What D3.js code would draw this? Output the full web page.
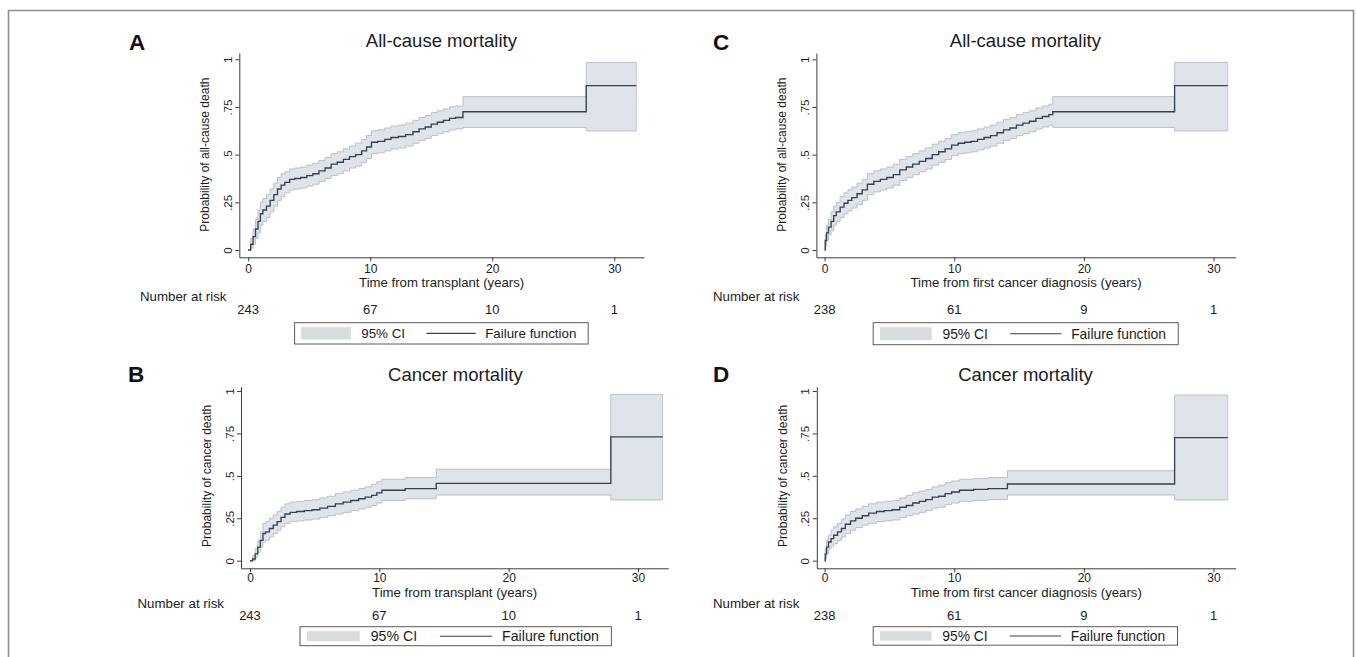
<!DOCTYPE html>
<html><head><meta charset="utf-8">
<script src="https://cdn.jsdelivr.net/npm/d3@7"></script>
<style>
body{margin:0;background:#fff;}
svg{display:block;font-family:"Liberation Sans",Arial,Helvetica,sans-serif;}
</style>
</head><body>
<svg id="chart" width="1357" height="657"></svg>
<script>
// ---------------- DATA ----------------
const timeTicks = [0, 10, 20, 30];
const probTicks = [0, 0.25, 0.5, 0.75, 1];
const probTickLabels = ["0", ".25", ".5", ".75", "1"];
const riskTransplant = [243, 67, 10, 1];
const riskDiagnosis = [238, 61, 9, 1];
const legendLabels = ["95% CI", "Failure function"];

// A: all-cause mortality, time from transplant
const allTxTime = [0, 0.2, 0.4, 0.6, 0.8, 1.0, 1.2, 1.5, 1.8, 2.1, 2.4, 2.7, 3.0, 3.4, 3.8, 4.3, 4.8, 5.3, 5.8, 6.3, 6.8, 7.3, 7.8, 8.3, 8.8, 9.3, 9.7, 10.1, 10.6, 11.2, 11.7, 12.3, 12.9, 13.5, 14.0, 14.5, 15.0, 15.5, 16.0, 16.5, 17.0, 17.6, 27.7, 31.8];
const allTxFail = [0, 0.03, 0.07, 0.11, 0.15, 0.19, 0.21, 0.23, 0.26, 0.29, 0.32, 0.34, 0.355, 0.37, 0.375, 0.38, 0.39, 0.40, 0.415, 0.43, 0.45, 0.46, 0.475, 0.49, 0.50, 0.52, 0.54, 0.565, 0.57, 0.58, 0.59, 0.595, 0.605, 0.62, 0.635, 0.645, 0.66, 0.67, 0.68, 0.69, 0.695, 0.725, 0.862, 0.862];
const allTxLow = [0, 0.01, 0.03, 0.06, 0.09, 0.13, 0.15, 0.17, 0.20, 0.23, 0.26, 0.28, 0.30, 0.315, 0.32, 0.325, 0.335, 0.345, 0.36, 0.375, 0.39, 0.40, 0.415, 0.43, 0.44, 0.46, 0.48, 0.505, 0.51, 0.52, 0.53, 0.535, 0.545, 0.56, 0.575, 0.585, 0.60, 0.61, 0.62, 0.63, 0.635, 0.643, 0.624, 0.624];
const allTxHigh = [0, 0.06, 0.11, 0.16, 0.21, 0.25, 0.27, 0.29, 0.32, 0.35, 0.38, 0.40, 0.41, 0.425, 0.43, 0.435, 0.445, 0.455, 0.47, 0.485, 0.505, 0.515, 0.53, 0.545, 0.56, 0.58, 0.60, 0.625, 0.63, 0.64, 0.65, 0.655, 0.665, 0.68, 0.695, 0.705, 0.72, 0.73, 0.74, 0.75, 0.755, 0.804, 0.984, 0.984];

// B: cancer mortality, time from transplant
const canTxTime = [0, 0.2, 0.4, 0.6, 0.8, 1.0, 1.2, 1.5, 1.8, 2.1, 2.4, 2.7, 3.1, 3.6, 4.2, 4.8, 5.4, 6.0, 6.6, 7.2, 7.8, 8.4, 8.9, 9.4, 9.8, 10.2, 12.0, 14.4, 27.9, 31.9];
const canTxFail = [0, 0.01, 0.04, 0.08, 0.12, 0.16, 0.17, 0.19, 0.21, 0.23, 0.255, 0.275, 0.285, 0.29, 0.295, 0.30, 0.31, 0.32, 0.335, 0.345, 0.355, 0.365, 0.375, 0.385, 0.40, 0.415, 0.425, 0.456, 0.73, 0.73];
const canTxLow = [0, 0, 0.02, 0.05, 0.08, 0.11, 0.12, 0.14, 0.16, 0.18, 0.20, 0.22, 0.23, 0.235, 0.24, 0.245, 0.255, 0.265, 0.275, 0.285, 0.295, 0.305, 0.315, 0.325, 0.34, 0.355, 0.365, 0.387, 0.358, 0.358];
const canTxHigh = [0, 0.03, 0.07, 0.12, 0.17, 0.22, 0.23, 0.25, 0.27, 0.29, 0.315, 0.335, 0.345, 0.35, 0.355, 0.36, 0.37, 0.38, 0.395, 0.405, 0.415, 0.425, 0.435, 0.45, 0.465, 0.48, 0.49, 0.539, 0.98, 0.98];

// C: all-cause mortality, time from first cancer diagnosis
const allDxTime = [0, 0.05, 0.15, 0.3, 0.5, 0.7, 0.9, 1.2, 1.5, 1.8, 2.1, 2.5, 2.9, 3.3, 3.8, 4.3, 4.8, 5.3, 5.8, 6.3, 6.8, 7.3, 7.8, 8.3, 8.8, 9.3, 9.8, 10.3, 10.8, 11.3, 11.8, 12.3, 12.8, 13.3, 13.8, 14.3, 14.8, 15.3, 15.8, 16.3, 16.8, 17.3, 17.6, 27.0, 31.1];
const allDxFail = [0, 0.05, 0.09, 0.12, 0.15, 0.18, 0.20, 0.225, 0.245, 0.26, 0.275, 0.295, 0.315, 0.345, 0.36, 0.37, 0.38, 0.395, 0.42, 0.435, 0.45, 0.465, 0.48, 0.50, 0.515, 0.53, 0.55, 0.56, 0.565, 0.57, 0.58, 0.59, 0.60, 0.615, 0.63, 0.64, 0.655, 0.665, 0.675, 0.69, 0.70, 0.71, 0.725, 0.862, 0.862];
const allDxLow = [0, 0.02, 0.05, 0.08, 0.10, 0.13, 0.15, 0.17, 0.19, 0.205, 0.22, 0.24, 0.26, 0.29, 0.305, 0.315, 0.325, 0.34, 0.365, 0.38, 0.395, 0.41, 0.425, 0.445, 0.46, 0.475, 0.495, 0.505, 0.51, 0.515, 0.525, 0.535, 0.545, 0.56, 0.575, 0.585, 0.60, 0.61, 0.62, 0.635, 0.645, 0.655, 0.643, 0.624, 0.624];
const allDxHigh = [0, 0.08, 0.13, 0.16, 0.20, 0.23, 0.25, 0.28, 0.30, 0.315, 0.33, 0.35, 0.37, 0.40, 0.415, 0.425, 0.435, 0.45, 0.475, 0.49, 0.505, 0.52, 0.535, 0.555, 0.57, 0.585, 0.605, 0.615, 0.62, 0.625, 0.635, 0.645, 0.655, 0.67, 0.685, 0.695, 0.71, 0.72, 0.73, 0.745, 0.755, 0.765, 0.804, 0.984, 0.984];

// D: cancer mortality, time from first cancer diagnosis
const canDxTime = [0, 0.05, 0.15, 0.3, 0.5, 0.7, 1.0, 1.3, 1.6, 2.0, 2.4, 2.9, 3.4, 4.0, 4.6, 5.2, 5.8, 6.3, 6.8, 7.3, 7.8, 8.3, 8.8, 9.3, 9.8, 10.4, 11.5, 12.6, 14.1, 27.0, 31.1];
const canDxFail = [0, 0.04, 0.08, 0.11, 0.13, 0.15, 0.17, 0.19, 0.215, 0.235, 0.25, 0.265, 0.28, 0.29, 0.295, 0.30, 0.315, 0.325, 0.34, 0.35, 0.36, 0.375, 0.38, 0.395, 0.405, 0.415, 0.42, 0.425, 0.452, 0.725, 0.725];
const canDxLow = [0, 0.01, 0.04, 0.07, 0.085, 0.10, 0.12, 0.14, 0.16, 0.18, 0.195, 0.21, 0.22, 0.23, 0.235, 0.24, 0.255, 0.265, 0.275, 0.285, 0.295, 0.31, 0.315, 0.33, 0.34, 0.35, 0.355, 0.36, 0.387, 0.358, 0.358];
const canDxHigh = [0, 0.07, 0.12, 0.15, 0.18, 0.20, 0.22, 0.245, 0.27, 0.29, 0.305, 0.32, 0.335, 0.345, 0.35, 0.355, 0.37, 0.385, 0.40, 0.41, 0.42, 0.435, 0.445, 0.46, 0.47, 0.48, 0.485, 0.49, 0.53, 0.976, 0.976];

// ---------------- LAYOUT / STYLE ----------------
const FONT_TXT = "#1c1c1c";
const BAND_FILL = "#dfe4ea";
const BAND_EDGE = "#b7c0c9";
const LINE_COL = "#35424f";
const AXIS_COL = "#3d3d3d";

const panels = [
  {letter:"A", title:"All-cause mortality", yTitle:"Probability of all-cause death", xTitle:"Time from transplant (years)",
   time:allTxTime, fail:allTxFail, lo:allTxLow, hi:allTxHigh, risk:riskTransplant,
   px0:248.2, px30:614.3, axL:239.3, axR:644, py0:250, py1:59.3, axT:53, axB:257.3,
   letterX:129, letterY:49.5, titleX:441.4, titleY:47, tickY:273.5, xTitleY:286.5, narX:140, narY:300.5, riskY:314,
   legX:294.6, legY:322.7, legW:293.6, legH:21.3},
  {letter:"B", title:"Cancer mortality", yTitle:"Probability of cancer death", xTitle:"Time from transplant (years)",
   time:canTxTime, fail:canTxFail, lo:canTxLow, hi:canTxHigh, risk:riskTransplant,
   px0:250, px30:638, axL:241, axR:668.3, py0:560.7, py1:391, axT:386.7, axB:568.3,
   letterX:128, letterY:382.3, titleX:455.4, titleY:380.5, tickY:582, xTitleY:596.5, narX:137.5, narY:608, riskY:620,
   legX:300, legY:626.7, legW:311.4, legH:19},
  {letter:"C", title:"All-cause mortality", yTitle:"Probability of all-cause death", xTitle:"Time from first cancer diagnosis (years)",
   time:allDxTime, fail:allDxFail, lo:allDxLow, hi:allDxHigh, risk:riskDiagnosis,
   px0:824.6, px30:1213.5, axL:816.4, axR:1235.7, py0:250, py1:59.3, axT:53, axB:257.3,
   letterX:713, letterY:49.5, titleX:1025.4, titleY:47, tickY:273.5, xTitleY:286.5, narX:712.9, narY:300.5, riskY:314,
   legX:873.2, legY:322.7, legW:305, legH:22},
  {letter:"D", title:"Cancer mortality", yTitle:"Probability of cancer death", xTitle:"Time from first cancer diagnosis (years)",
   time:canDxTime, fail:canDxFail, lo:canDxLow, hi:canDxHigh, risk:riskDiagnosis,
   px0:824.6, px30:1213.5, axL:816.8, axR:1235.7, py0:560.7, py1:391, axT:386.7, axB:568.3,
   letterX:713, letterY:382.3, titleX:1025.5, titleY:380.5, tickY:582, xTitleY:596.5, narX:712.9, narY:608, riskY:620,
   legX:873.2, legY:626.7, legW:304.3, legH:18.5}
];

const svg = d3.select("#chart");
svg.append("rect").attr("width",1357).attr("height",657).attr("fill","#fff");

// outer frame (open at bottom)
svg.append("path")
  .attr("d","M8.5,657 V10.5 H1353.5 V657")
  .attr("fill","none").attr("stroke","#8e8e8e").attr("stroke-width",1.6);

panels.forEach(p => {
  const g = svg.append("g");
  const pxYr = (p.px30 - p.px0) / 30;
  const x = d3.scaleLinear()
    .domain([(p.axL - p.px0) / pxYr, (p.axR - p.px0) / pxYr])
    .range([p.axL, p.axR]);
  const pxP = p.py0 - p.py1;
  const y = d3.scaleLinear()
    .domain([(p.py0 - p.axB) / pxP, (p.py0 - p.axT) / pxP])
    .range([p.axB, p.axT]);

  const rows = p.time.map((t, i) => ({t, f:p.fail[i], lo:p.lo[i], hi:p.hi[i]}));

  // CI band
  g.append("path").datum(rows)
    .attr("d", d3.area().curve(d3.curveStepAfter).x(d => x(d.t)).y0(d => y(d.lo)).y1(d => y(d.hi)))
    .attr("fill", BAND_FILL).attr("stroke","none");
  ["lo","hi"].forEach(k => {
    g.append("path").datum(rows)
      .attr("d", d3.line().curve(d3.curveStepAfter).x(d => x(d.t)).y(d => y(d[k])))
      .attr("fill","none").attr("stroke", BAND_EDGE).attr("stroke-width",1);
  });
  const last = rows[rows.length-1];
  g.append("line").attr("x1",x(last.t)).attr("x2",x(last.t)).attr("y1",y(last.lo)).attr("y2",y(last.hi))
    .attr("stroke",BAND_EDGE).attr("stroke-width",0.8);

  // failure function
  g.append("path").datum(rows)
    .attr("d", d3.line().curve(d3.curveStepAfter).x(d => x(d.t)).y(d => y(d.f)))
    .attr("fill","none").attr("stroke", LINE_COL).attr("stroke-width",1.35);

  // x axis
  const xa = g.append("g").attr("transform",`translate(0,${p.axB})`)
    .call(d3.axisBottom(x).tickValues(timeTicks).tickSize(4).tickSizeOuter(0).tickFormat(d3.format("d")));
  xa.select(".domain").attr("stroke",AXIS_COL);
  xa.selectAll(".tick line").attr("stroke",AXIS_COL);
  xa.selectAll(".tick text").attr("y", p.tickY - p.axB).attr("dy",0)
    .attr("font-size",12).attr("fill",FONT_TXT).attr("font-family","Liberation Sans, Arial, sans-serif");

  // y axis
  const ya = g.append("g").attr("transform",`translate(${p.axL},0)`)
    .call(d3.axisLeft(y).tickValues(probTicks).tickSize(4).tickSizeOuter(0)
      .tickFormat((d,i) => probTickLabels[i]));
  ya.select(".domain").attr("stroke",AXIS_COL);
  ya.selectAll(".tick line").attr("stroke",AXIS_COL);
  ya.selectAll(".tick text")
    .attr("transform","rotate(-90)").attr("x",0).attr("y",-7.5).attr("dy",0)
    .attr("text-anchor","middle").attr("font-size",11.5).attr("fill",FONT_TXT)
    .attr("font-family","Liberation Sans, Arial, sans-serif");

  // y title
  g.append("text")
    .attr("transform",`translate(${p.axL - 30},${y(0.5)}) rotate(-90)`)
    .attr("text-anchor","middle").attr("font-size",12).attr("fill",FONT_TXT)
    .text(p.yTitle);

  // x title
  g.append("text").attr("x",(p.axL + p.axR)/2).attr("y",p.xTitleY)
    .attr("text-anchor","middle").attr("font-size",13.2).attr("fill",FONT_TXT)
    .text(p.xTitle);

  // panel title & letter
  g.append("text").attr("x",p.titleX).attr("y",p.titleY)
    .attr("text-anchor","middle").attr("font-size",18.5).attr("fill",FONT_TXT)
    .text(p.title);
  g.append("text").attr("x",p.letterX).attr("y",p.letterY)
    .attr("font-size",22.5).attr("font-weight","bold").attr("fill","#111")
    .text(p.letter);

  // number at risk
  g.append("text").attr("x",p.narX).attr("y",p.narY)
    .attr("font-size",13.3).attr("fill",FONT_TXT).text("Number at risk");
  g.selectAll(".risk").data(p.risk).enter().append("text")
    .attr("x",(d,i) => x(timeTicks[i])).attr("y",p.riskY)
    .attr("text-anchor","middle").attr("font-size",13).attr("fill",FONT_TXT)
    .text(d => d);

  // legend
  const L = p.legX, W = p.legW, T = p.legY, H = p.legH;
  const lg = g.append("g");
  lg.append("rect").attr("x",L).attr("y",T).attr("width",W).attr("height",H)
    .attr("fill","#fff").attr("stroke","#5a5a5a").attr("stroke-width",1);
  lg.append("rect").attr("x",L + 0.022*W).attr("y",T + 4.5).attr("width",0.17*W).attr("height",H - 9)
    .attr("fill","#d9dcdf");
  const fs = 0.0455 * W;
  lg.append("text").attr("x",L + 0.227*W).attr("y",T + H/2 + fs*0.35)
    .attr("font-size",fs).attr("fill",FONT_TXT).text(legendLabels[0]);
  lg.append("line").attr("x1",L + 0.449*W).attr("x2",L + 0.617*W)
    .attr("y1",T + H/2).attr("y2",T + H/2).attr("stroke",LINE_COL).attr("stroke-width",1.1);
  lg.append("text").attr("x",L + 0.649*W).attr("y",T + H/2 + fs*0.35)
    .attr("font-size",fs).attr("fill",FONT_TXT).text(legendLabels[1]);
});
</script>
</body></html>
